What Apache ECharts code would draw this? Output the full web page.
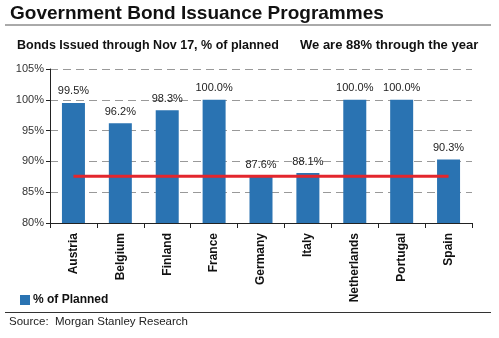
<!DOCTYPE html>
<html><head><meta charset="utf-8">
<script src="https://cdn.jsdelivr.net/npm/echarts@6/dist/echarts.min.js"></script>
<style>html,body{margin:0;padding:0;background:#fff}#c{width:499px;height:338px}</style>
</head><body><div id="c"></div>
<script>
const categories = ['Austria','Belgium','Finland','France','Germany','Italy','Netherlands','Portugal','Spain'];
const planned = [99.5, 96.2, 98.3, 100.0, 87.6, 88.1, 100.0, 100.0, 90.3];
const throughYear = [87.6, 87.6, 87.6, 87.6, 87.6, 87.6, 87.6, 87.6, 87.6];
const yTicks = [80, 85, 90, 95, 100, 105];

const chart = echarts.init(document.getElementById('c'));
const F = 'Arial, "Liberation Sans", sans-serif';
chart.setOption({
  animation: false,
  textStyle: { fontFamily: F },
  title: [
    { text: 'Government Bond Issuance Programmes', left: 10, top: 4, padding: 0,
      textStyle: { fontSize: 19, fontWeight: 'bold', color: '#111', fontFamily: F } },
    { text: 'Bonds Issued through Nov 17, % of planned', left: 17, top: 39, padding: 0,
      textStyle: { fontSize: 12.5, fontWeight: 'bold', color: '#111', fontFamily: F } },
    { text: 'We are 88% through the year', left: 300, top: 39, padding: 0,
      textStyle: { fontSize: 13, fontWeight: 'bold', color: '#111', fontFamily: F } },
    { text: 'Source:  Morgan Stanley Research', left: 9, top: 316, padding: 0,
      textStyle: { fontSize: 11.5, fontWeight: 'normal', color: '#222', fontFamily: F } }
  ],
  graphic: [
    { type: 'line', shape: { x1: 5, y1: 25, x2: 491, y2: 25 }, style: { stroke: '#555', lineWidth: 1 } },
    { type: 'line', shape: { x1: 5, y1: 312.5, x2: 491, y2: 312.5 }, style: { stroke: '#333', lineWidth: 1 } }
  ],
  legend: {
    data: [{ name: '% of Planned', icon: 'rect' }],
    left: 15, top: 289, itemWidth: 10, itemHeight: 10, itemGap: 4,
    textStyle: { fontSize: 12, fontWeight: 'bold', color: '#111', fontFamily: F, padding: [0,0,0,-2] }
  },
  grid: { left: 50, right: 27, top: 69, bottom: 115 },
  xAxis: {
    type: 'category', data: categories,
    axisLine: { lineStyle: { color: '#222', width: 1 } },
    axisTick: { show: true, alignWithLabel: false, length: 5, lineStyle: { color: '#222' } },
    axisLabel: { rotate: 90, fontSize: 12, fontWeight: 'bold', color: '#111', margin: 10, fontFamily: F, interval: 0 }
  },
  yAxis: {
    type: 'value', min: 80, max: 105, interval: 5,
    axisLine: { show: true, lineStyle: { color: '#222', width: 1 } },
    axisTick: { show: true, length: 4, lineStyle: { color: '#222' } },
    axisLabel: { formatter: v => yTicks.includes(v) ? v + '%' : '', fontSize: 11, color: '#333', margin: 6, fontFamily: F },
    splitLine: { show: true, lineStyle: { color: '#999', type: [8, 5], width: 1.2 } }
  },
  series: [
    { name: '% of Planned', type: 'bar', data: planned, barWidth: 23,
      itemStyle: { color: '#2a73b2' },
      label: { show: true, position: 'top', distance: 6, formatter: p => p.value.toFixed(1) + '%',
               fontSize: 11, color: '#222', fontFamily: F } },
    { name: 'through', type: 'line', data: throughYear, symbol: 'none',
      lineStyle: { color: '#e3262d', width: 3 }, z: 5 }
  ]
});
</script></body></html>
